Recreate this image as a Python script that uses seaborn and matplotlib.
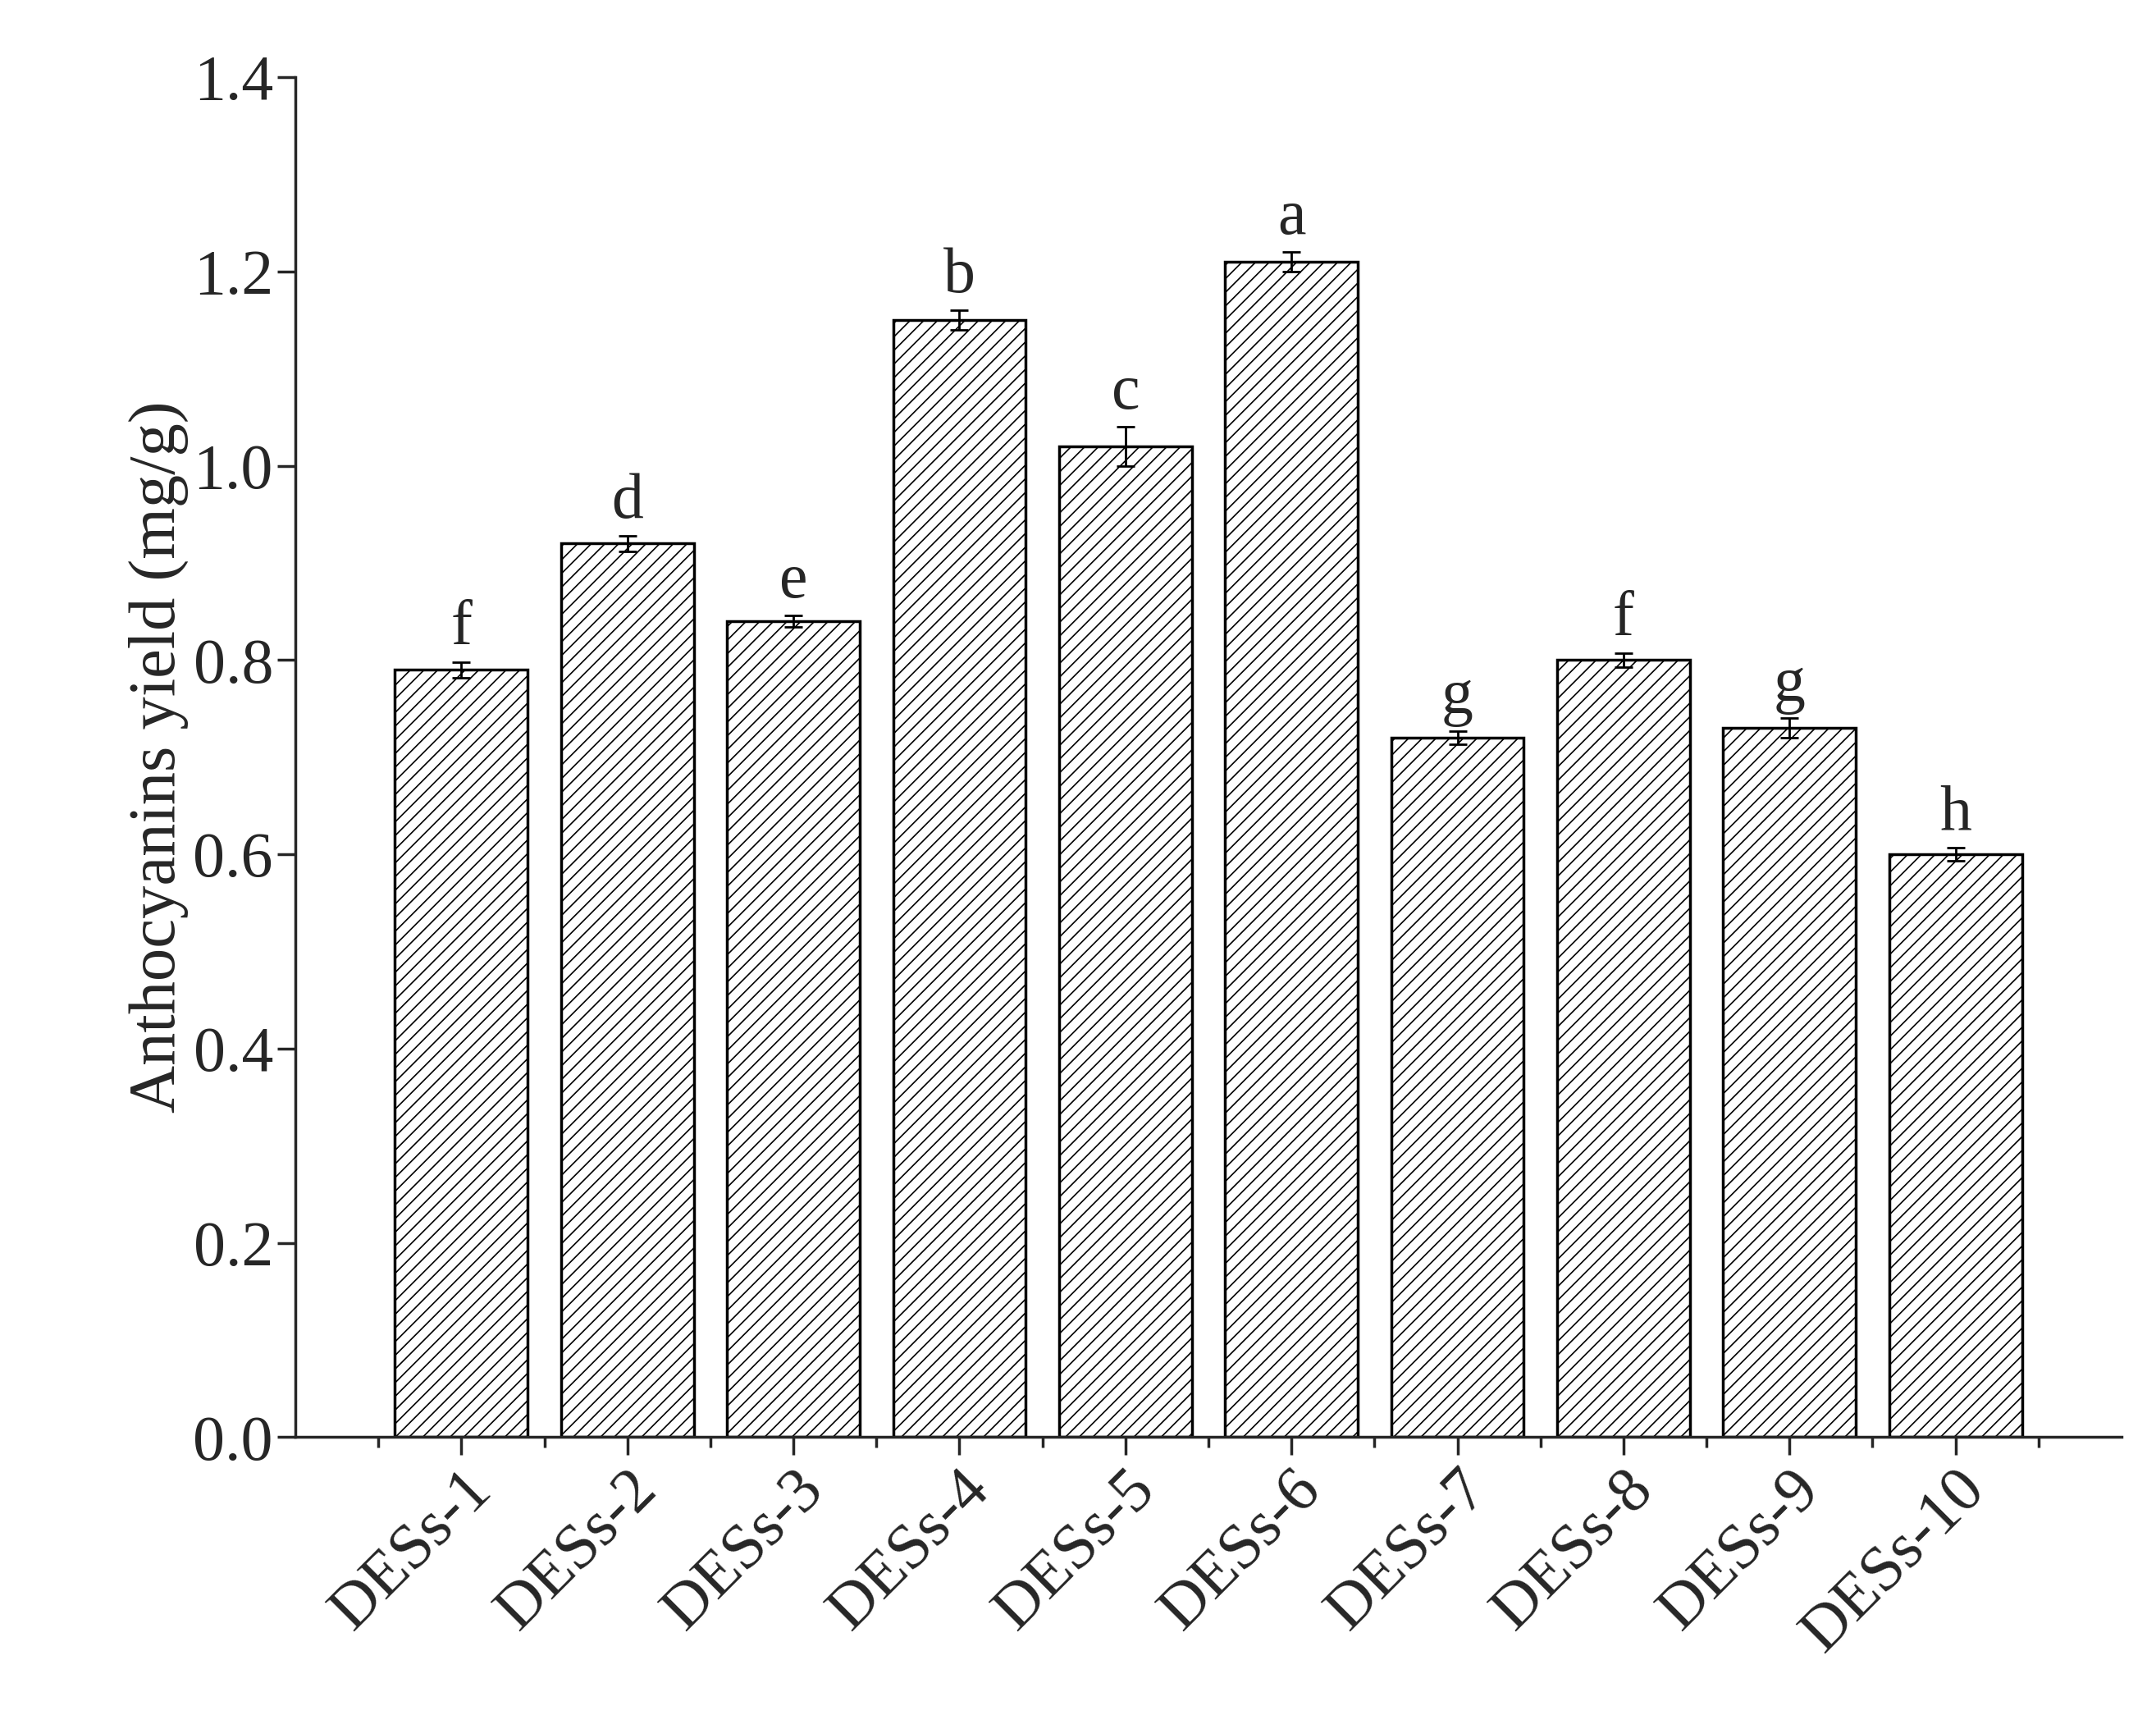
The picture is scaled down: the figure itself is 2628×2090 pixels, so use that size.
import matplotlib.pyplot as plt
import pandas as pd
import seaborn as sns
from matplotlib.ticker import MultipleLocator

solvents = ["DESs-1", "DESs-2", "DESs-3", "DESs-4", "DESs-5",
            "DESs-6", "DESs-7", "DESs-8", "DESs-9", "DESs-10"]
yields = [0.79, 0.92, 0.84, 1.15, 1.02, 1.21, 0.72, 0.80, 0.73, 0.60]
errors = [0.008, 0.008, 0.006, 0.010, 0.020, 0.010, 0.007, 0.007, 0.010, 0.007]
letters = ["f", "d", "e", "b", "c", "a", "g", "f", "g", "h"]

df = pd.DataFrame({"Solvent": solvents, "Yield": yields})

sns.set_style("ticks")
plt.rcParams["font.family"] = ["Liberation Serif", "DejaVu Serif"]
plt.rcParams["hatch.linewidth"] = 1.2

fig = plt.figure(figsize=(26.28, 20.9), dpi=100)
ax = fig.add_axes([0.137, 0.162, 0.847, 0.793])

sns.barplot(data=df, x="Solvent", y="Yield", color="white", edgecolor="black",
            linewidth=2.5, width=0.8, errorbar=None, ax=ax)
for p in ax.patches:
    p.set_hatch("//")

ax.errorbar(range(len(solvents)), yields, yerr=errors, fmt="none",
            ecolor="black", elinewidth=2, capsize=8, capthick=2)

for i, (v, e, t) in enumerate(zip(yields, errors, letters)):
    ax.text(i, v + e + 0.004, t, ha="center", va="bottom", fontsize=56)

ax.set_xlim(-1, 10)
ax.set_ylim(0, 1.4)
ax.yaxis.set_major_locator(MultipleLocator(0.2))
ax.set_xticks(range(len(solvents)))
ax.set_xticks([i + 0.5 for i in range(-1, 10)], minor=True)
ax.set_yticklabels([f"{v:.1f}" for v in ax.get_yticks()])
ax.set_xticklabels(solvents, rotation=45, ha="right", rotation_mode="anchor")
ax.tick_params(axis="both", which="major", labelsize=56, width=2.5, length=16, direction="out")
ax.tick_params(axis="both", which="minor", width=2.5, length=9, direction="out")
ax.set_xlabel("")
ax.set_ylabel("Anthocyanins yield (mg/g)", fontsize=58)
for s in ["top", "right"]:
    ax.spines[s].set_visible(False)
for s in ["left", "bottom"]:
    ax.spines[s].set_linewidth(2.5)

fig.savefig("out.png", dpi=100)
